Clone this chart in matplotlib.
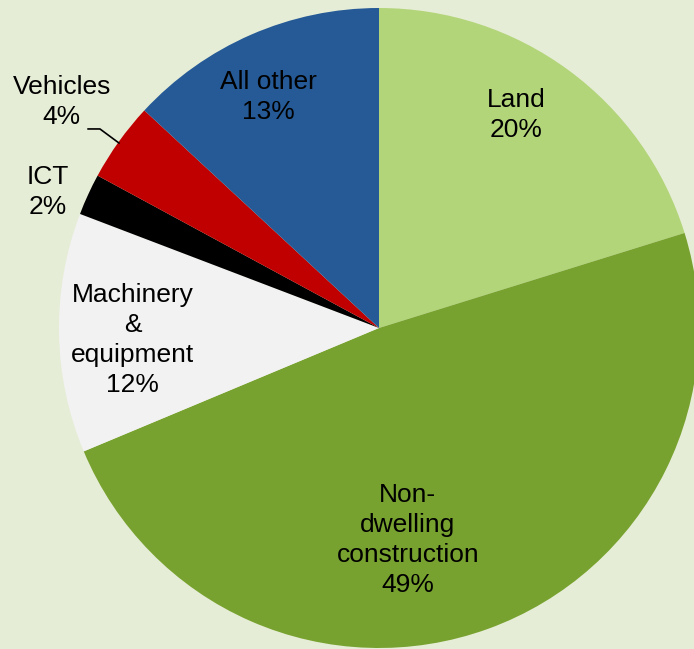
import matplotlib
matplotlib.use("Agg")
import matplotlib.pyplot as plt

categories = ["Land", "Non-\ndwelling\nconstruction", "Machinery\n&\nequipment", "ICT", "Vehicles", "All other"]
shares = [20.2, 48.5, 12.1, 2.1, 4.0, 13.1]
pct_labels = [20, 49, 12, 2, 4, 13]
colors = ["#B3D57A", "#78A22F", "#F2F2F2", "#000000", "#C00000", "#255A96"]

# label positions (data coords, pie radius = 1)
label_pos = [(0.428, 0.666), (0.09, -0.663), (-0.769, -0.038),
             (-1.034, 0.425), (-0.991, 0.706), (-0.347, 0.722)]

bg = "#E6EDD7"
fig = plt.figure(figsize=(6.94, 6.49), dpi=100, facecolor=bg)
ax = fig.add_axes([59 / 694, 1 / 649, 640 / 694, 640 / 649])
ax.set_facecolor(bg)
ax.pie(shares, colors=colors, startangle=90, counterclock=False, radius=1,
       wedgeprops=dict(linewidth=0))
ax.set_xlim(-1, 1)
ax.set_ylim(-1, 1)
ax.set_aspect("equal")
ax.axis("off")

for cat, p, (x, y) in zip(categories, pct_labels, label_pos):
    ax.text(x, y, f"{cat}\n{p}%", ha="center", va="center", fontsize=19,
            family="Liberation Sans", linespacing=1.32, color="black")

# leader line for Vehicles
ax.plot([-0.909, -0.872, -0.8125], [0.622, 0.622, 0.578], color="black", lw=1.2,
        clip_on=False)

fig.savefig("out.png", dpi=100, facecolor=bg)
